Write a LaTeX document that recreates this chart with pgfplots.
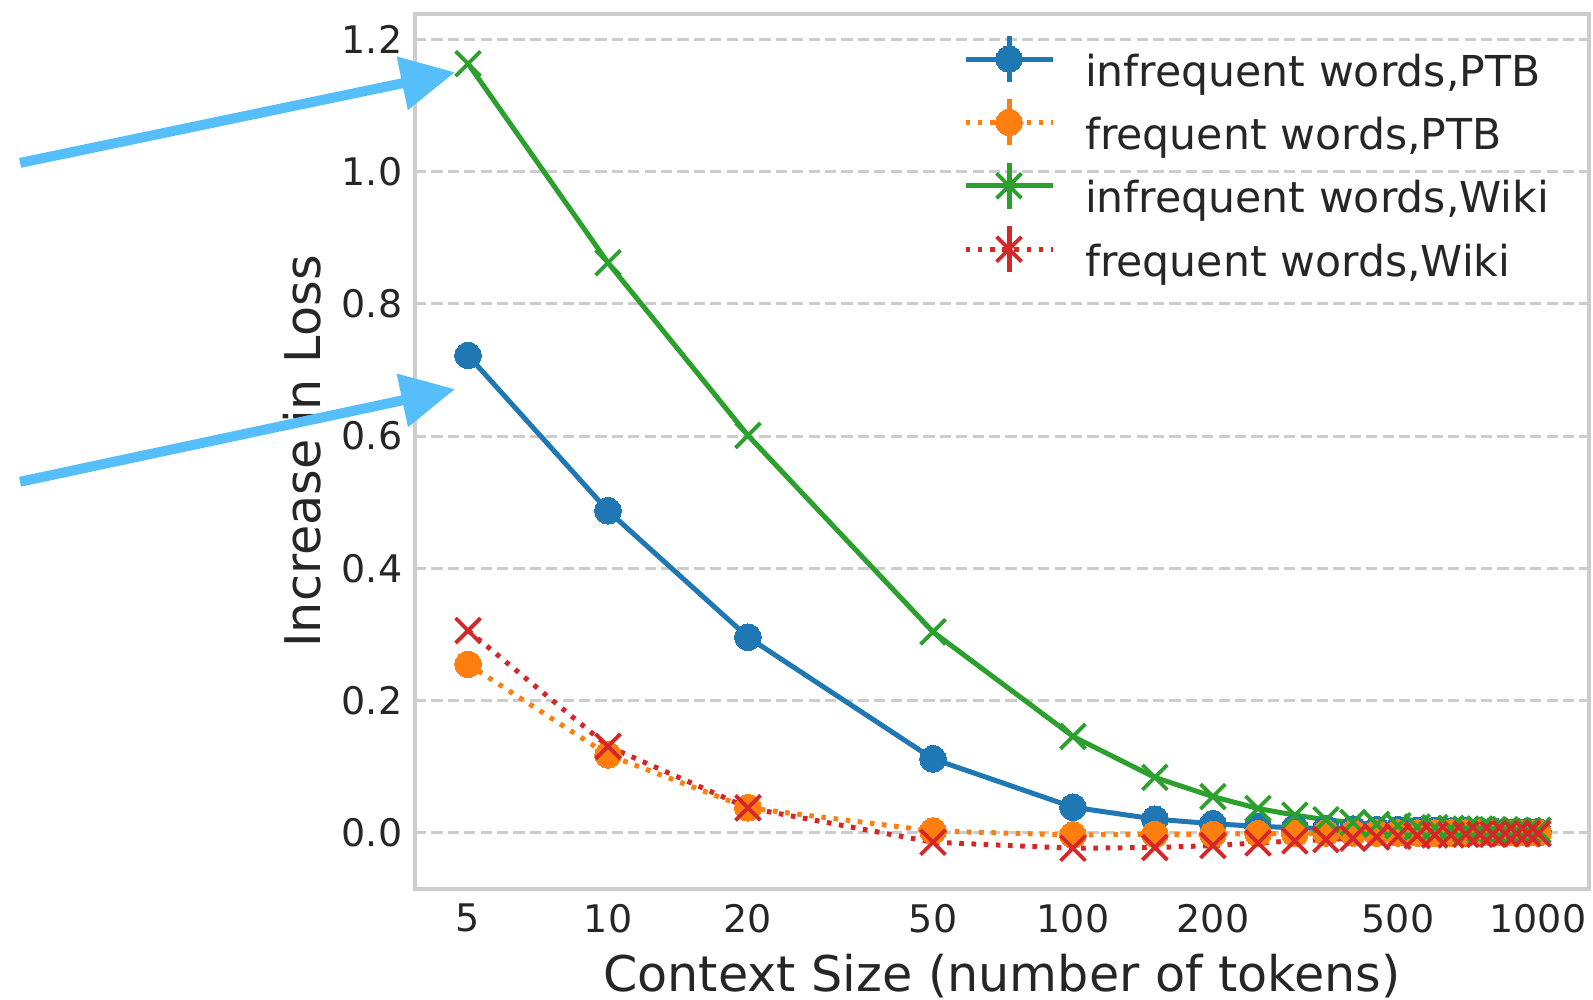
\documentclass[border=0pt]{standalone}
\usepackage{fontspec}
\setmainfont{DejaVu Sans}
\usepackage{pgfplots}
\usepackage{pgfplotstable}
\pgfplotsset{compat=1.18}
\usetikzlibrary{arrows.meta}

\definecolor{tabblue}{HTML}{1F77B4}
\definecolor{taborange}{HTML}{FF7F0E}
\definecolor{tabgreen}{HTML}{2CA02C}
\definecolor{tabred}{HTML}{D62728}
\definecolor{textgray}{HTML}{262626}
\definecolor{framegray}{HTML}{CCCCCC}
\definecolor{arrowblue}{RGB}{86,190,250}

% context size, then increase in loss: infrequent/frequent words on PTB and Wiki
\pgfplotstableread{
ctx   infPTB  freqPTB  infWiki  freqWiki
5     0.722   0.255    1.163    0.306
10    0.487   0.118    0.862    0.131
20    0.296   0.038    0.601    0.038
50    0.112   0.003    0.304   -0.014
100   0.039  -0.003    0.146   -0.023
150   0.021  -0.002    0.084   -0.022
200   0.014  -0.002    0.055   -0.019
250   0.010  -0.001    0.037   -0.015
300   0.008  -0.001    0.027   -0.012
350   0.007   0.000    0.020   -0.010
400   0.006   0.000    0.016   -0.008
450   0.005   0.000    0.013   -0.006
500   0.005   0.000    0.011   -0.005
550   0.004   0.000    0.009   -0.004
600   0.004   0.000    0.008   -0.003
650   0.003   0.000    0.007   -0.003
700   0.003   0.000    0.006   -0.002
750   0.003   0.000    0.006   -0.002
800   0.003   0.000    0.005   -0.002
850   0.002   0.000    0.005   -0.001
900   0.002   0.000    0.004   -0.001
950   0.002   0.000    0.004   -0.001
1000  0.002   0.000    0.004   -0.001
}\losstable

\begin{document}
\begin{tikzpicture}
\useasboundingbox (-103.75pt,-27.5pt) rectangle (294.5pt,222.25pt);
\begin{axis}[
  at={(0pt,0pt)}, anchor=south west,
  scale only axis, width=293.5pt, height=218.75pt,
  xmode=log,
  xmin=3.846, xmax=1287.6, ymin=-0.0847, ymax=1.2381,
  xtick={5,10,20,50,100,200,500,1000},
  xticklabels={5,10,20,50,100,200,500,1000},
  minor xtick={},
  ytick={0,0.2,0.4,0.6,0.8,1.0,1.2},
  yticklabels={0.0,0.2,0.4,0.6,0.8,1.0,1.2},
  major tick length=0pt, minor tick length=0pt,
  axis line style={framegray, line width=0.9pt},
  ymajorgrids,
  grid style={framegray, line width=0.75pt, dash pattern=on 2.8pt off 1.3pt},
  tick label style={font=\fontsize{9.5}{11}\selectfont, text=textgray},
  xticklabel style={anchor=north, inner sep=0pt, yshift=-3.5pt},
  yticklabel style={anchor=east, inner sep=0pt, xshift=-3pt},
  label style={font=\fontsize{12.3}{14}\selectfont, text=textgray},
  xlabel={Context Size (number of tokens)},
  ylabel={Increase in Loss},
  xlabel style={at={(axis description cs:0.5,0)}, anchor=base, yshift=-25.7pt},
  ylabel style={at={(axis description cs:-0.0963,0.5)}, anchor=center},
  clip=false,
  legend cell align=left,
  legend style={at={(rel axis cs:0.4668,1)}, anchor=north west, yshift=-9.8pt,
    draw=none, fill=none, inner sep=0pt, outer sep=0pt,
    font=\fontsize{10.65}{12}\selectfont, text=textgray,
    row sep=5.15pt,
    /tikz/every odd column/.append style={column sep=7.5pt},
    nodes={inner sep=0pt, text height=8.2pt, text depth=2.5pt}},
  legend image code/.code={
    \path (0pt,0pt) (21.75pt,0pt);
    \draw[overlay,#1] (0pt,3.9pt) -- (21.75pt,3.9pt);
    \draw[overlay,#1,solid] (10.875pt,-1.85pt) -- (10.875pt,9.65pt);
    \draw[overlay,#1] plot coordinates {(10.875pt,3.9pt)};
  },
]
\addplot[tabblue, line width=1.25pt, mark=*, mark size=3.3pt,
  mark options={solid, fill=tabblue, draw=tabblue, line width=0pt}]
  table[x=ctx, y=infPTB] {\losstable};
\addlegendentry{infrequent words,PTB}
\addplot[taborange, line width=1.25pt, dash pattern=on 1.15pt off 1.9pt, mark=*, mark size=3.3pt,
  mark options={solid, fill=taborange, draw=taborange, line width=0pt}]
  table[x=ctx, y=freqPTB] {\losstable};
\addlegendentry{frequent words,PTB}
\addplot[tabgreen, line width=1.25pt, mark=x, mark size=4.4pt,
  mark options={solid, line width=0.95pt}]
  table[x=ctx, y=infWiki] {\losstable};
\addlegendentry{infrequent words,Wiki}
\addplot[tabred, line width=1.25pt, dash pattern=on 1.15pt off 1.9pt, mark=x, mark size=4.4pt,
  mark options={solid, line width=0.95pt}]
  table[x=ctx, y=freqWiki] {\losstable};
\addlegendentry{frequent words,Wiki}

\coordinate (arrAtail) at (axis cs:0.544,1.013);
\coordinate (arrAhead) at (axis cs:4.69,1.150);
\coordinate (arrBtail) at (axis cs:0.544,0.531);
\coordinate (arrBhead) at (axis cs:4.69,0.671);
\end{axis}
\draw[arrowblue, line width=2.5pt, -{Triangle[length=13.5pt, width=13pt]}] (arrAtail) -- (arrAhead);
\draw[arrowblue, line width=2.5pt, -{Triangle[length=13.5pt, width=13pt]}] (arrBtail) -- (arrBhead);
\end{tikzpicture}
\end{document}
